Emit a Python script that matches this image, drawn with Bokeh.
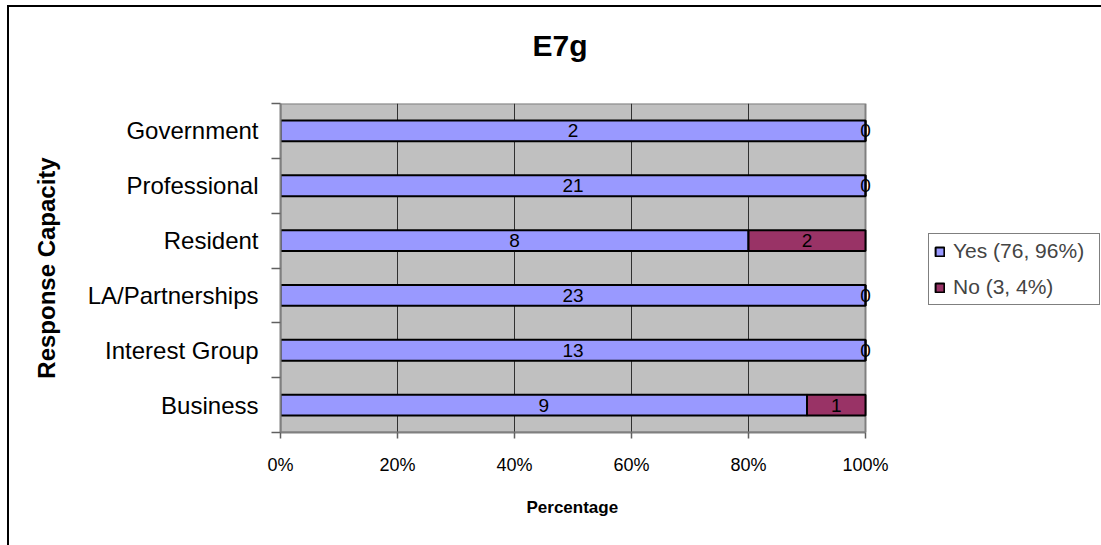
from bokeh.plotting import figure
from bokeh.models import (ColumnDataSource, Range1d, FixedTicker, NumeralTickFormatter,
                          LabelSet, Legend, LegendItem, Title)
from bokeh.core.properties import value
from bokeh.embed import file_html
from bokeh.resources import INLINE

# Survey responses by capacity (bottom to top)
categories = ["Business", "Interest Group", "LA/Partnerships", "Resident", "Professional", "Government"]
yes_counts = [9, 13, 23, 8, 21, 2]
no_counts = [1, 0, 0, 2, 0, 0]
x_ticks = [0, 0.2, 0.4, 0.6, 0.8, 1.0]

FONT = "Liberation Sans"
YES_COLOR = "#9999FF"
NO_COLOR = "#993366"
PLOT_GRAY = "#C0C0C0"

totals = [y + n for y, n in zip(yes_counts, no_counts)]
yes_pct = [y / t for y, t in zip(yes_counts, totals)]
no_pct = [n / t for n, t in zip(no_counts, totals)]
pos = [i + 0.5 for i in range(len(categories))]

src = ColumnDataSource(dict(
    y=pos, yes=yes_pct, no=no_pct,
    yes_mid=[p / 2 for p in yes_pct],
    no_mid=[y + n / 2 for y, n in zip(yes_pct, no_pct)],
    yes_txt=[str(v) for v in yes_counts],
    no_txt=[str(v) for v in no_counts],
))

# the frame runs to the right edge so the legend can sit in it;
# the grey plot area (0..100%) is 585 px wide
PLOT_PX = 585
FRAME_PX = 1101 - 280
x_end = FRAME_PX / PLOT_PX

p = figure(width=1101, height=545, output_backend="svg", toolbar_location=None,
           x_range=Range1d(0, x_end), y_range=Range1d(0, len(categories)),
           min_border_left=280, min_border_right=0, min_border_top=103, min_border_bottom=113)
p.background_fill_color = None
p.border_fill_color = None
p.outline_line_color = None
# white page with the chart's outer frame (left and top edges)
p.styles = {
    "background": "linear-gradient(#000,#000) 7px 5px / 2px 100% no-repeat, "
                  "linear-gradient(#000,#000) 7px 5px / 100% 2px no-repeat, #ffffff",
}

# grey plot area
p.quad(left=[0], right=[1], bottom=[0], top=[len(categories)], fill_color=PLOT_GRAY,
       line_color="#808080", line_width=2, level="image")

renderers = p.hbar_stack(["yes", "no"], y="y", height=0.38, source=src,
                         fill_color=[YES_COLOR, NO_COLOR], line_color="black", line_width=2)

# value labels in the middle of each segment
for xcol, tcol in (("yes_mid", "yes_txt"), ("no_mid", "no_txt")):
    p.add_layout(LabelSet(x=xcol, y="y", text=tcol, source=src, text_align="center",
                          text_baseline="middle", text_font=value(FONT), text_font_size="19px",
                          text_color="black"))

# x axis
xa = p.xaxis[0]
xa.ticker = FixedTicker(ticks=x_ticks)
xa.bounds = (0, 1)
xa.formatter = NumeralTickFormatter(format="0%")
xa.major_tick_out = 6
xa.major_tick_in = 0
xa.major_tick_line_color = "#606060"
xa.major_tick_line_width = 1.5
xa.minor_tick_line_color = None
xa.axis_line_color = "#808080"
xa.axis_line_width = 2
xa.major_label_text_font = FONT
xa.major_label_text_font_size = "18px"
xa.major_label_text_color = "black"
xa.major_label_standoff = 16

# x axis title, centred under the grey plot area
p.add_layout(Title(text="Percentage", align="left", offset=246, text_font=FONT,
                   text_font_style="bold", text_font_size="17px", text_color="black",
                   standoff=37), "below")

# y axis: labels at band centres, ticks at band boundaries
ya = p.yaxis[0]
ya.ticker = FixedTicker(ticks=pos, minor_ticks=list(range(len(categories) + 1)))
ya.major_label_overrides = {v: c for v, c in zip(pos, categories)}
ya.major_tick_line_color = None
ya.major_tick_out = 0
ya.major_tick_in = 0
ya.minor_tick_out = 9
ya.minor_tick_in = 0
ya.minor_tick_line_color = "#606060"
ya.minor_tick_line_width = 1.5
ya.axis_line_color = "#808080"
ya.axis_line_width = 2
ya.major_label_text_font = FONT
ya.major_label_text_font_size = "24px"
ya.major_label_text_color = "black"
ya.major_label_standoff = 13
ya.axis_label = "Response Capacity"
ya.axis_label_text_font = FONT
ya.axis_label_text_font_style = "bold"
ya.axis_label_text_font_size = "24px"
ya.axis_label_text_color = "black"
ya.axis_label_standoff = 25

p.xgrid.ticker = FixedTicker(ticks=x_ticks[1:-1])
p.xgrid.bounds = (0, len(categories))
p.xgrid.grid_line_color = "#303030"
p.xgrid.grid_line_width = 1
p.ygrid.grid_line_color = None

# gap between the plot area and the chart title
p.add_layout(Title(text=" ", text_font=FONT, text_font_size="10px", standoff=29), "above")
# chart title
p.add_layout(Title(text="E7g", align="left", offset=252, text_font=FONT,
                   text_font_style="bold", text_font_size="30px", text_color="black",
                   standoff=0), "above")

legend = Legend(items=[
    LegendItem(label=f"Yes ({sum(yes_counts)}, {round(100 * sum(yes_counts) / sum(totals))}%)",
               renderers=[renderers[0]]),
    LegendItem(label=f"No ({sum(no_counts)}, {round(100 * sum(no_counts) / sum(totals))}%)",
               renderers=[renderers[1]]),
], location=(648, 127), orientation="vertical")
legend.label_text_font = FONT
legend.label_text_font_size = "21px"
legend.glyph_width = 11
legend.glyph_height = 11
legend.label_standoff = 8
legend.label_width = 141
legend.label_height = 20
legend.spacing = 12
legend.padding = 5
legend.margin = 0
legend.border_line_color = "black"
legend.border_line_width = 1.5
legend.background_fill_color = "white"
legend.background_fill_alpha = 1
p.add_layout(legend, "center")

open("out.html", "w").write(file_html(p, INLINE))
